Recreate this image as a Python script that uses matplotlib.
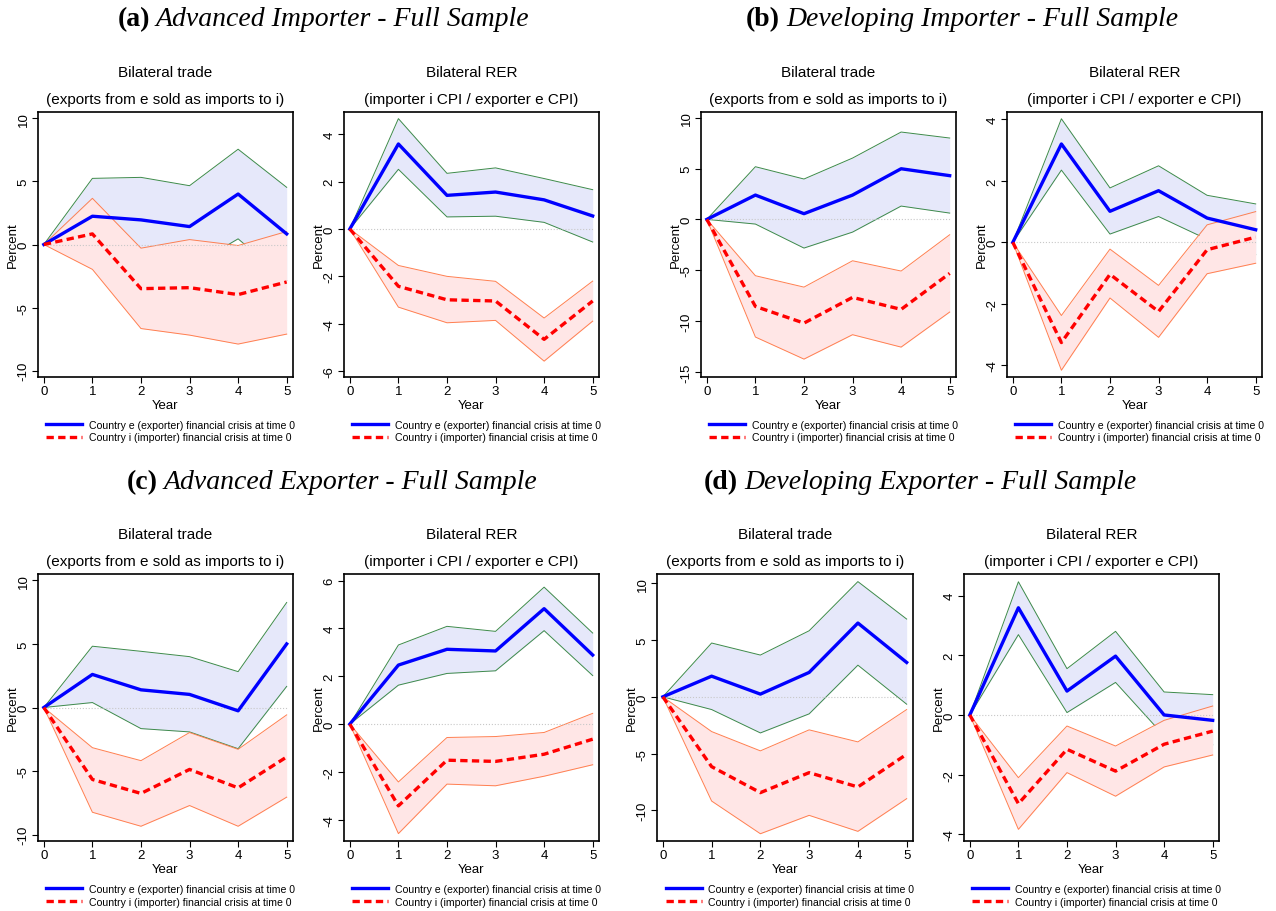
import numpy as np
import matplotlib
matplotlib.use("Agg")
import matplotlib.pyplot as plt
from matplotlib.lines import Line2D

plt.rcParams['font.family'] = ['Liberation Sans', 'DejaVu Sans']
plt.rcParams['axes.unicode_minus'] = False

years = [0, 1, 2, 3, 4, 5]

# (a) Advanced importer
a_trade_e = [0, 2.24, 1.95, 1.42, 4.00, 0.84]
a_trade_e_lo = [0, -0.76, -1.42, -1.82, 0.45, -2.85]
a_trade_e_hi = [0, 5.24, 5.32, 4.66, 7.55, 4.53]
a_trade_i = [0, 0.84, -3.50, -3.42, -3.97, -2.97]
a_trade_i_lo = [0, -1.97, -6.66, -7.18, -7.89, -7.10]
a_trade_i_hi = [0, 3.66, -0.29, 0.39, -0.08, 1.03]

a_rer_e = [0, 3.59, 1.42, 1.56, 1.23, 0.55]
a_rer_e_lo = [0, 2.52, 0.51, 0.54, 0.28, -0.55]
a_rer_e_hi = [0, 4.66, 2.35, 2.58, 2.13, 1.66]
a_rer_i = [0, -2.42, -2.99, -3.04, -4.66, -3.04]
a_rer_i_lo = [0, -3.30, -3.96, -3.86, -5.58, -3.89]
a_rer_i_hi = [0, -1.54, -2.00, -2.21, -3.76, -2.20]

# (b) Developing importer
b_trade_e = [0, 2.39, 0.56, 2.39, 4.98, 4.30]
b_trade_e_lo = [0, -0.46, -2.82, -1.25, 1.31, 0.62]
b_trade_e_hi = [0, 5.18, 3.97, 6.03, 8.59, 8.00]
b_trade_i = [0, -8.56, -10.20, -7.67, -8.85, -5.31]
b_trade_i_lo = [0, -11.57, -13.74, -11.34, -12.56, -9.11]
b_trade_i_hi = [0, -5.54, -6.66, -4.07, -5.08, -1.51]

b_rer_e = [0, 3.20, 1.01, 1.68, 0.79, 0.41]
b_rer_e_lo = [0, 2.35, 0.27, 0.84, 0.10, -0.40]
b_rer_e_hi = [0, 4.02, 1.77, 2.49, 1.53, 1.25]
b_rer_i = [0, -3.26, -1.04, -2.25, -0.24, 0.17]
b_rer_i_lo = [0, -4.16, -1.81, -3.09, -1.02, -0.68]
b_rer_i_hi = [0, -2.38, -0.22, -1.40, 0.57, 1.00]

# (c) Advanced exporter
c_trade_e = [0, 2.60, 1.39, 1.03, -0.26, 5.00]
c_trade_e_lo = [0, 0.39, -1.66, -1.92, -3.24, 1.66]
c_trade_e_hi = [0, 4.82, 4.42, 4.00, 2.82, 8.26]
c_trade_i = [0, -5.66, -6.76, -4.87, -6.32, -3.89]
c_trade_i_lo = [0, -8.24, -9.34, -7.71, -9.34, -7.05]
c_trade_i_hi = [0, -3.16, -4.18, -1.97, -3.29, -0.58]

c_rer_e = [0, 2.47, 3.13, 3.06, 4.83, 2.89]
c_rer_e_lo = [0, 1.63, 2.12, 2.23, 3.91, 2.03]
c_rer_e_hi = [0, 3.31, 4.09, 3.88, 5.73, 3.81]
c_rer_i = [0, -3.42, -1.51, -1.56, -1.26, -0.63]
c_rer_i_lo = [0, -4.58, -2.51, -2.58, -2.18, -1.70]
c_rer_i_hi = [0, -2.42, -0.56, -0.52, -0.35, 0.45]

# (d) Developing exporter
d_trade_e = [0, 1.82, 0.24, 2.15, 6.50, 3.03]
d_trade_e_lo = [0, -1.12, -3.18, -1.50, 2.79, -0.65]
d_trade_e_hi = [0, 4.74, 3.68, 5.82, 10.15, 6.85]
d_trade_i = [0, -6.15, -8.44, -6.68, -7.94, -5.06]
d_trade_i_lo = [0, -9.18, -12.06, -10.44, -11.85, -8.97]
d_trade_i_hi = [0, -3.06, -4.76, -2.91, -3.97, -1.12]

d_rer_e = [0, 3.59, 0.80, 1.97, 0.00, -0.18]
d_rer_e_lo = [0, 2.69, 0.08, 1.09, -0.70, -1.00]
d_rer_e_hi = [0, 4.46, 1.55, 2.80, 0.77, 0.68]
d_rer_i = [0, -2.97, -1.15, -1.88, -0.98, -0.54]
d_rer_i_lo = [0, -3.83, -1.93, -2.72, -1.74, -1.34]
d_rer_i_hi = [0, -2.10, -0.37, -1.04, -0.18, 0.30]

trade_title = "Bilateral trade"
trade_sub = "(exports from e sold as imports to i)"
rer_title = "Bilateral RER"
rer_sub = "(importer i CPI / exporter e CPI)"
legend_labels = ["Country e (exporter) financial crisis at time 0",
                 "Country i (importer) financial crisis at time 0"]

W, H = 1276, 912
fig = plt.figure(figsize=(W / 100, H / 100), dpi=100)


def px_axes(x0, y0, x1, y1):
    return fig.add_axes([x0 / W, 1 - y1 / H, (x1 - x0) / W, (y1 - y0) / H])


def panel(rect, e, e_lo, e_hi, i, i_lo, i_hi, ylim, yticks, title, sub):
    ax = px_axes(*rect)
    ax.fill_between(years, e_lo, e_hi, color='#e6e8fa', lw=0, zorder=1)
    ax.plot(years, e_hi, color='#3d8a4a', lw=0.7, zorder=2)
    ax.plot(years, e_lo, color='#3d8a4a', lw=0.7, zorder=2)
    ax.fill_between(years, i_lo, i_hi, color='#ffe6e6', lw=0, zorder=3)
    ax.plot(years, i_hi, color='#ff7f50', lw=0.7, zorder=4)
    ax.plot(years, i_lo, color='#ff7f50', lw=0.7, zorder=4)
    ax.plot([0, 5], [0, 0], color='#c8c8c8', lw=0.8, ls=':', zorder=5)
    ax.plot(years, e, color='#0000ff', lw=2.4, zorder=6)
    ax.plot(years, i, color='#ff0000', lw=2.4, ls=(0, (2.2, 1.3)), zorder=7)
    ax.set_xlim(-0.12, 5.13)
    ax.set_ylim(*ylim)
    ax.set_xticks(years)
    ax.set_yticks(yticks)
    ax.tick_params(axis='both', direction='out', length=4, width=0.8, labelsize=9.5, pad=2)
    plt.setp(ax.get_yticklabels(), rotation=90, va='center')
    for s in ax.spines.values():
        s.set_linewidth(1.2)
    ax.set_xlabel("Year", fontsize=9.5, labelpad=1)
    ax.set_ylabel("Percent", fontsize=9.5, labelpad=-1)
    ax.text(0.5, 1.151, title, transform=ax.transAxes, ha='center', va='center', fontsize=11)
    ax.text(0.5, 1.049, sub, transform=ax.transAxes, ha='center', va='center', fontsize=11)
    handles = [Line2D([], [], color='#0000ff', lw=2.4),
               Line2D([], [], color='#ff0000', lw=2.4, ls=(0, (2.2, 1.3)))]
    ax.legend(handles, legend_labels, loc='upper center', bbox_to_anchor=(0.52, -0.145),
              frameon=False, fontsize=7.6, handlelength=3.4, labelspacing=0.25,
              handletextpad=0.6, borderaxespad=0)
    return ax


panel((38, 113, 293, 378), a_trade_e, a_trade_e_lo, a_trade_e_hi, a_trade_i, a_trade_i_lo,
      a_trade_i_hi, (-10.5, 10.5), [-10, -5, 0, 5, 10], trade_title, trade_sub)
panel((344, 113, 599, 378), a_rer_e, a_rer_e_lo, a_rer_e_hi, a_rer_i, a_rer_i_lo,
      a_rer_i_hi, (-6.25, 4.94), [-6, -4, -2, 0, 2, 4], rer_title, rer_sub)
panel((701, 113, 956, 378), b_trade_e, b_trade_e_lo, b_trade_e_hi, b_trade_i, b_trade_i_lo,
      b_trade_i_hi, (-15.5, 10.56), [-15, -10, -5, 0, 5, 10], trade_title, trade_sub)
panel((1007, 113, 1262, 378), b_rer_e, b_rer_e_lo, b_rer_e_hi, b_rer_i, b_rer_i_lo,
      b_rer_i_hi, (-4.38, 4.24), [-4, -2, 0, 2, 4], rer_title, rer_sub)
panel((38, 575, 293, 842), c_trade_e, c_trade_e_lo, c_trade_e_hi, c_trade_i, c_trade_i_lo,
      c_trade_i_hi, (-10.5, 10.5), [-10, -5, 0, 5, 10], trade_title, trade_sub)
panel((344, 575, 599, 842), c_rer_e, c_rer_e_lo, c_rer_e_hi, c_rer_i, c_rer_i_lo,
      c_rer_i_hi, (-4.89, 6.28), [-4, -2, 0, 2, 4, 6], rer_title, rer_sub)
panel((657, 575, 913, 842), d_trade_e, d_trade_e_lo, d_trade_e_hi, d_trade_i, d_trade_i_lo,
      d_trade_i_hi, (-12.7, 10.82), [-10, -5, 0, 5, 10], trade_title, trade_sub)
panel((964, 575, 1219, 842), d_rer_e, d_rer_e_lo, d_rer_e_hi, d_rer_i, d_rer_i_lo,
      d_rer_i_hi, (-4.22, 4.72), [-4, -2, 0, 2, 4], rer_title, rer_sub)

# panel headers: bold letter + italic caption
headers = [("(a)", "Advanced Importer - Full Sample", 150, 20),
           ("(b)", "Developing Importer - Full Sample", 780, 20),
           ("(c)", "Advanced Exporter - Full Sample", 158, 483),
           ("(d)", "Developing Exporter - Full Sample", 738, 483)]
for tag, cap, x, y in headers:
    fig.text(x / W, 1 - y / H, tag, ha='right', va='center', fontsize=20,
             fontweight='bold', family='Liberation Serif')
    fig.text((x + 6) / W, 1 - y / H, cap, ha='left', va='center', fontsize=20,
             style='italic', family='Liberation Serif')

fig.savefig("out.png", dpi=100)
